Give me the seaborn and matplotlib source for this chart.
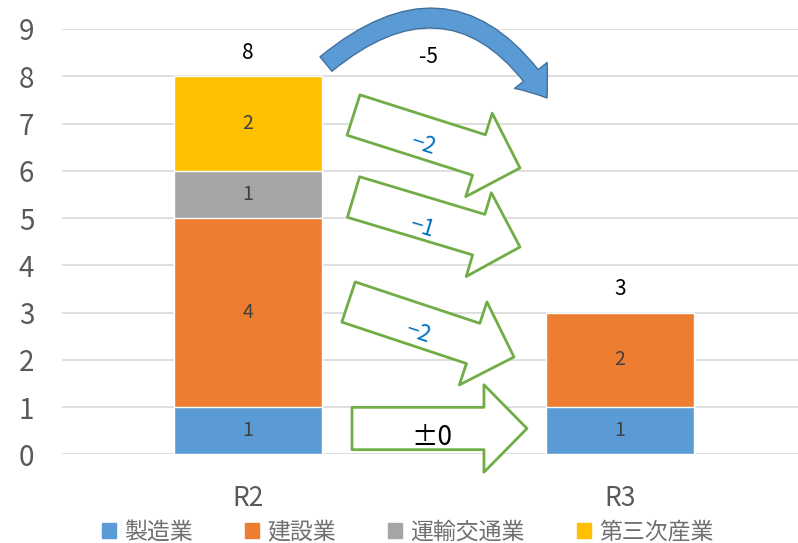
import matplotlib
matplotlib.use("Agg")
import matplotlib.pyplot as plt
import matplotlib.patches as mpatches
import seaborn as sns
import pandas as pd
import numpy as np

# ---- data ----
years = ["R2", "R3"]
industries = ["製造業", "建設業", "運輸交通業", "第三次産業"]
seizo = [1, 1]
kensetsu = [4, 2]
unyu = [1, 0]
daisan = [2, 0]
totals = [8, 3]
change_labels = ["−2", "−1", "−2", "±0"]   # per-industry changes (top to bottom)
total_change = "-5"
colors = ["#5B9BD5", "#ED7D31", "#A5A5A5", "#FFC000"]

sns.set_theme(style="white")
plt.rcParams['font.family'] = ['Noto Sans CJK JP', 'DejaVu Sans']

fig = plt.figure(figsize=(7.98, 5.43), dpi=100)
ax = fig.add_axes([62/798, (543-454.3)/543, 1-62/798, (454.3-29)/543])

series = [seizo, kensetsu, unyu, daisan]
cum = np.cumsum(np.array(series), axis=0)
df = pd.DataFrame({"year": years})
# draw cumulative bars from top down so lower layers overlay
for i in range(len(series)-1, -1, -1):
    df["v"] = cum[i]
    sns.barplot(data=df, x="year", y="v", color=colors[i], width=0.398,
                saturation=1, ax=ax, zorder=2, order=years)

ax.set_ylim(0, 9)
ax.set_xlim(-0.5, (798-248)/372)
ax.set_yticks(range(0, 10))
ax.yaxis.grid(True, color="#D9D9D9", lw=1.2, zorder=0)
ax.set_axisbelow(True)
for s in ax.spines.values():
    s.set_visible(False)
ax.set_xlabel("")
ax.set_ylabel("")
ax.tick_params(axis="y", labelsize=20, colors="#595959", length=0, pad=20)
ax.tick_params(axis="x", labelsize=19, colors="#595959", length=0, pad=22)

# segment labels
bottoms = np.vstack([np.zeros(len(years)), cum[:-1]])
for i, s in enumerate(series):
    for j, v in enumerate(s):
        if v > 0:
            ax.text(j, bottoms[i][j] + v/2, str(v), ha="center", va="center",
                    fontsize=14, color="#404040", zorder=5)
for j, t in enumerate(totals):
    ax.text(j, t + 0.5, str(t), ha="center", va="center", fontsize=15,
            color="black", zorder=5)

# green block arrows (tail center -> tip), in data coords
def px2d(px, py):
    return ((px-248)/372, (454.3-py)/47.26)

green = "#70AD47"
arrows = [((353.5, 115), (520, 168)), ((353.5, 197), (520, 247)),
          ((348.5, 302), (514, 357)), ((352, 428.5), (527, 428.5))]
label_pos = [(423, 145), (422, 227), (418, 333), (432, 437)]
for k, (t, h) in enumerate(arrows):
    ax.annotate("", xy=px2d(*h), xytext=px2d(*t), xycoords="data",
                textcoords="data", annotation_clip=False,
                arrowprops=dict(arrowstyle="simple,head_length=3.1,head_width=6.3,tail_width=3.05",
                                fc="white", ec=green, lw=2, shrinkA=0, shrinkB=0,
                                mutation_scale=10), zorder=4)
    ang = -np.degrees(np.arctan2(h[1]-t[1], h[0]-t[0]))
    if k < 3:
        ax.text(*px2d(*label_pos[k]), change_labels[k], rotation=ang,
                rotation_mode="anchor", ha="center", va="center",
                fontsize=16, color="#0070C0", zorder=6)
    else:
        ax.text(*px2d(*label_pos[k]), change_labels[k], ha="center",
                va="center", fontsize=19, color="black", zorder=6)

# curved blue arrow
ax.annotate("", xy=px2d(547, 98), xytext=px2d(326, 64), xycoords="data",
            textcoords="data", annotation_clip=False,
            arrowprops=dict(arrowstyle="simple,head_length=2.0,head_width=3.0,tail_width=1.35",
                            fc="#5B9BD5", ec="#41719C", lw=1, shrinkA=0, shrinkB=0,
                            mutation_scale=10, connectionstyle="arc3,rad=-0.56"),
            zorder=6)
ax.text(*px2d(428, 57), total_change, ha="center", va="center", fontsize=15,
        color="black", zorder=6)

handles = [mpatches.Patch(color=c, label=l) for c, l in zip(colors, industries)]
fig.legend(handles=handles, loc="center", bbox_to_anchor=(0.511, 0.02), ncol=4,
           frameon=False, fontsize=16.5, handlelength=0.6, handleheight=0.6,
           handletextpad=0.35, columnspacing=2.3, labelcolor="#707070",
           borderpad=0)

fig.savefig("out.png", dpi=100)
